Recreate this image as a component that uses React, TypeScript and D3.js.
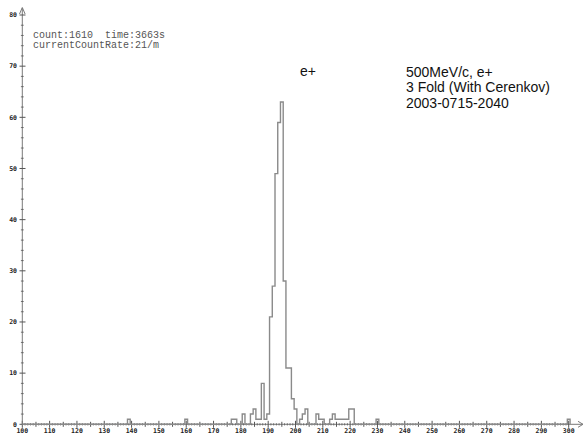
import React, { Component } from "react";
import * as d3 from "d3";

// channel (bin centre) and counts, only the non-empty bins
const binValues = [139, 160, 177, 178, 181, 184, 185, 186, 187, 188, 189, 190, 191, 192, 193, 194, 195, 196, 197, 198, 199, 200, 202, 203, 204, 208, 209, 210, 213, 214, 215, 216, 217, 218, 219, 220, 221, 230, 300];
const binCounts = [1, 1, 1, 1, 2, 2, 3, 1, 1, 8, 1, 2, 21, 27, 49, 59, 63, 28, 11, 11, 5, 3, 1, 2, 3, 2, 1, 1, 1, 2, 1, 1, 1, 1, 1, 3, 3, 1, 1];

const xTicks = [100, 110, 120, 130, 140, 150, 160, 170, 180, 190, 200, 210, 220, 230, 240, 250, 260, 270, 280, 290, 300];
const yTicks = [0, 10, 20, 30, 40, 50, 60, 70, 80];

const infoLines = ["count:1610  time:3663s", "currentCountRate:21/m"];
const runLines = ["500MeV/c, e+", "3 Fold (With Cerenkov)", "2003-0715-2040"];
const peakLabel = "e+";

class App extends Component {
  svgRef = React.createRef<SVGSVGElement>();

  componentDidMount() {
    this.renderChart();
  }

  componentDidUpdate() {
    this.renderChart();
  }

  renderChart() {
    const svg = d3.select(this.svgRef.current);
    svg.selectAll("*").remove();

    const x = d3.scaleLinear().domain([100, 300]).range([22.3, 568.7]);
    const y = d3.scaleLinear().domain([0, 80]).range([424.3, 15]);
    const x0 = x(100), y0 = y(0);

    const axisColor = "#7a7a7a";
    const tickColor = "#555";

    // histogram as a step line
    const counts = new Map(binValues.map((v, i) => [v, binCounts[i]]));
    const steps: [number, number][] = d3.range(100, 301).map(v => [Math.max(v - 0.5, 100), counts.get(v) ?? 0]);
    steps.push([300.5, 0]);

    const line = d3.line<[number, number]>()
      .x(d => x(d[0]))
      .y(d => y(d[1]))
      .curve(d3.curveStepAfter);

    // x axis
    const gx = svg.append("g");
    gx.append("line")
      .attr("x1", x0).attr("x2", 583).attr("y1", y0).attr("y2", y0)
      .attr("stroke", axisColor).attr("stroke-width", 1);
    gx.append("path")
      .attr("d", `M578,${y0 - 3}L583,${y0}L578,${y0 + 3}`)
      .attr("fill", "none").attr("stroke", axisColor).attr("stroke-width", 1);
    gx.selectAll("line.tick")
      .data(d3.range(100, 301))
      .join("line")
      .attr("class", "tick")
      .attr("x1", d => x(d)).attr("x2", d => x(d))
      .attr("y1", d => y0 - (d % 10 === 0 ? 3.5 : d % 5 === 0 ? 2.5 : 1.2))
      .attr("y2", d => y0 + (d % 10 === 0 ? 3.5 : d % 5 === 0 ? 2.5 : 1.2))
      .attr("stroke", tickColor)
      .attr("stroke-width", d => (d % 5 === 0 ? 1 : 0.7));
    gx.selectAll("text")
      .data(xTicks)
      .join("text")
      .attr("x", d => x(d))
      .attr("y", 432.8)
      .attr("text-anchor", "middle")
      .attr("font-family", "'DejaVu Sans Mono', monospace")
      .attr("font-weight", "bold")
      .attr("font-size", 6.5)
      .attr("fill", "#222")
      .text(d => d);

    // y axis
    const gy = svg.append("g");
    gy.append("line")
      .attr("x1", x0).attr("x2", x0).attr("y1", y0).attr("y2", 8)
      .attr("stroke", axisColor).attr("stroke-width", 1);
    gy.append("path")
      .attr("d", `M${x0 - 2.8},14L${x0},7.5L${x0 + 2.8},14`)
      .attr("fill", "none").attr("stroke", axisColor).attr("stroke-width", 1);
    gy.selectAll("line.tick")
      .data(d3.range(0, 81, 2))
      .join("line")
      .attr("class", "tick")
      .attr("x1", d => x0 - (d % 10 === 0 ? 2.8 : 1.4))
      .attr("x2", d => x0 + (d % 10 === 0 ? 3.2 : 1.4))
      .attr("y1", d => y(d)).attr("y2", d => y(d))
      .attr("stroke", tickColor)
      .attr("stroke-width", d => (d % 10 === 0 ? 1 : 0.8));
    gy.selectAll("text")
      .data(yTicks)
      .join("text")
      .attr("x", 17)
      .attr("y", d => y(d) + 2.3)
      .attr("text-anchor", "end")
      .attr("font-family", "'DejaVu Sans Mono', monospace")
      .attr("font-weight", "bold")
      .attr("font-size", 6.5)
      .attr("fill", "#222")
      .text(d => d);

    svg.append("path")
      .attr("d", line(steps))
      .attr("fill", "none")
      .attr("stroke", "#8a8a8a")
      .attr("stroke-width", 1.4);

    // annotations
    svg.append("g")
      .selectAll("text")
      .data(infoLines)
      .join("text")
      .attr("x", 33)
      .attr("y", (d, i) => 37.6 + i * 10)
      .attr("font-family", "'Liberation Mono', monospace")
      .attr("font-size", 10)
      .attr("fill", "#555")
      .attr("xml:space", "preserve")
      .style("white-space", "pre")
      .text(d => d);

    svg.append("g")
      .selectAll("text")
      .data(runLines)
      .join("text")
      .attr("x", 406)
      .attr("y", (d, i) => 76.6 + i * 15.8)
      .attr("font-family", "'Liberation Sans', Arial, sans-serif")
      .attr("font-size", 14)
      .attr("fill", "#111")
      .text(d => d);

    svg.append("text")
      .attr("x", 300)
      .attr("y", 76)
      .attr("font-family", "'Liberation Sans', Arial, sans-serif")
      .attr("font-size", 14)
      .attr("fill", "#111")
      .text(peakLabel);
  }

  render() {
    return (
      <svg
        ref={this.svgRef}
        width={584}
        height={437}
        style={{ position: "absolute", left: 0, top: 0, background: "#fff" }}
      ></svg>
    );
  }
}

export default App;
